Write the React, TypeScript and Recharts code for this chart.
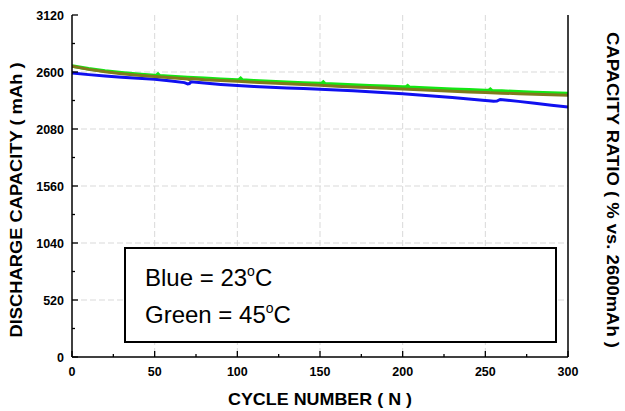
import { LineChart, Line, XAxis, YAxis, CartesianGrid, Label } from 'recharts';

// cycle counts and discharge capacity (mAh)
const blueCycles = [0, 10, 20, 30, 40, 50, 60, 68, 70, 71, 72, 80, 90, 100, 110, 120, 130, 140, 150, 160, 170, 180, 190, 200, 210, 220, 230, 240, 250, 252, 255, 257, 259, 262, 270, 280, 290, 300];
const blueCap = [2592, 2576, 2563, 2552, 2542, 2533, 2518, 2503, 2492, 2495, 2510, 2500, 2487, 2476, 2468, 2461, 2455, 2449, 2443, 2436, 2428, 2420, 2411, 2402, 2391, 2379, 2367, 2354, 2341, 2338, 2333, 2335, 2349, 2345, 2332, 2314, 2297, 2280];

const greenCycles = [0, 10, 20, 30, 40, 50, 51, 52, 53, 60, 70, 80, 90, 100, 101, 102, 103, 110, 120, 130, 140, 150, 151, 152, 153, 160, 170, 180, 190, 200, 202, 203, 204, 210, 220, 230, 240, 250, 252, 253, 254, 260, 270, 280, 290, 300];
const greenCap = [2655, 2630, 2610, 2594, 2580, 2567, 2567, 2580, 2566, 2558, 2549, 2542, 2535, 2528, 2528, 2541, 2527, 2521, 2514, 2507, 2500, 2494, 2494, 2507, 2493, 2488, 2481, 2475, 2469, 2463, 2463, 2475, 2461, 2457, 2450, 2443, 2437, 2431, 2431, 2443, 2429, 2426, 2419, 2413, 2408, 2404];

const oliveCycles = [0, 10, 20, 30, 40, 50, 60, 70, 71, 72, 80, 90, 100, 110, 120, 130, 140, 150, 160, 170, 180, 190, 200, 210, 220, 230, 240, 250, 260, 270, 280, 290, 300];
const oliveCap = [2652, 2624, 2602, 2585, 2570, 2558, 2547, 2536, 2530, 2540, 2530, 2522, 2515, 2507, 2500, 2492, 2485, 2478, 2471, 2464, 2458, 2451, 2445, 2438, 2432, 2425, 2418, 2412, 2407, 2402, 2397, 2392, 2388];

const xTicks = [0, 25, 50, 75, 100, 125, 150, 175, 200, 225, 250, 275, 300];
const xGrid = [50, 100, 150, 200, 250];
const capTicks = [0, 260, 520, 780, 1040, 1300, 1560, 1820, 2080, 2340, 2600, 2860, 3120];
const capGrid = [520, 1040, 1560, 2080, 2600];
const ratioTicks = [0, 10, 20, 30, 40, 50, 60, 70, 80, 90, 100, 110, 120];

const toRows = (xs: number[], ys: number[]) => xs.map((c, i) => ({ cycle: c, cap: ys[i] }));

const FONT = 'Arial, "Liberation Sans", sans-serif';
const tickText = { fontFamily: FONT, fontSize: 12.5, fontWeight: 700, fill: '#000' };

function BottomTick(props: any) {
  const { x, y, payload } = props;
  const major = payload.value % 50 === 0;
  return (
    <g>
      <line x1={x} y1={y} x2={x} y2={y - (major ? 6 : 3)} stroke="#000" strokeWidth={1.3} />
      {major && (
        <text x={x} y={y + 19} textAnchor="middle" {...tickText}>
          {payload.value}
        </text>
      )}
    </g>
  );
}

function TopTick(props: any) {
  const { x, y, payload } = props;
  const major = payload.value % 50 === 0;
  return <line x1={x} y1={y} x2={x} y2={y + (major ? 6 : 3)} stroke="#000" strokeWidth={1.3} />;
}

function LeftTick(props: any) {
  const { x, y, payload } = props;
  const major = payload.value % 520 === 0;
  return (
    <g>
      <line x1={x} y1={y} x2={x + (major ? 6 : 3)} y2={y} stroke="#000" strokeWidth={1.3} />
      {major && (
        <text x={x - 8} y={y + 4.5} textAnchor="end" {...tickText}>
          {payload.value}
        </text>
      )}
    </g>
  );
}

function RightTick(props: any) {
  const { x, y, payload } = props;
  const major = payload.value % 20 === 0;
  return (
    <g>
      <line x1={x} y1={y} x2={x - (major ? 6 : 3)} y2={y} stroke="#000" strokeWidth={1.3} />
      {major && (
        <text x={x + 8} y={y + 4.5} textAnchor="start" {...tickText}>
          {payload.value}
        </text>
      )}
    </g>
  );
}

const titleStyle = { fontFamily: FONT, fontSize: 17, fontWeight: 700, fill: '#000', whiteSpace: 'pre' as const };

export default function App() {
  return (
    <div style={{ position: 'relative', width: 625, height: 411, background: '#fff' }}>
      <style>{'body{margin:0}'}</style>
      <LineChart width={625} height={411} margin={{ top: 15, right: 0, bottom: 0, left: 0 }}>
        <CartesianGrid
          xAxisId="bottom"
          yAxisId="left"
          stroke="#d9d9d9"
          strokeDasharray="6 3"
          verticalValues={xGrid}
          horizontalValues={capGrid}
        />
        <XAxis
          xAxisId="bottom"
          type="number"
          dataKey="cycle"
          domain={[0, 300]}
          ticks={xTicks}
          interval={0}
          height={54}
          tickSize={0}
          tickMargin={0}
          tickLine={false}
          tick={<BottomTick />}
          axisLine={{ stroke: '#000', strokeWidth: 1.5 }}
          allowDataOverflow
        >
          <Label
            content={(p: any) => {
              const vb = p.viewBox;
              return (
                <text x={vb.x + vb.width / 2} y={vb.y + 48} textAnchor="middle" textLength={184} lengthAdjust="spacingAndGlyphs" {...titleStyle}>
                  {'CYCLE NUMBER  ( N )'}
                </text>
              );
            }}
          />
        </XAxis>
        <XAxis
          xAxisId="top"
          orientation="top"
          type="number"
          dataKey="cycle"
          domain={[0, 300]}
          ticks={xTicks}
          interval={0}
          height={0}
          tickSize={0}
          tickMargin={0}
          tickLine={false}
          tick={<TopTick />}
          axisLine={{ stroke: '#000', strokeWidth: 1.5 }}
        />
        <YAxis
          yAxisId="left"
          type="number"
          domain={[0, 3120]}
          ticks={capTicks}
          interval={0}
          width={72}
          tickSize={0}
          tickMargin={0}
          tickLine={false}
          tick={<LeftTick />}
          axisLine={{ stroke: '#000', strokeWidth: 1.5 }}
        >
          <Label
            content={(p: any) => {
              const vb = p.viewBox;
              const cx = vb.x + 16;
              const cy = vb.y + vb.height / 2 + 14;
              return (
                <text x={cx} y={cy} transform={`rotate(-90 ${cx} ${cy})`} textAnchor="middle" dominantBaseline="central" textLength={275} lengthAdjust="spacingAndGlyphs" {...titleStyle}>
                  {'DISCHARGE CAPACITY  ( mAh )'}
                </text>
              );
            }}
          />
        </YAxis>
        <YAxis
          yAxisId="right"
          orientation="right"
          type="number"
          domain={[0, 120]}
          ticks={ratioTicks}
          interval={0}
          width={57}
          tickSize={0}
          tickMargin={0}
          tickLine={false}
          tick={<RightTick />}
          axisLine={{ stroke: '#000', strokeWidth: 1.5 }}
        >
          <Label
            content={(p: any) => {
              const vb = p.viewBox;
              const cx = vb.x + 44;
              const cy = vb.y + vb.height / 2 + 4;
              return (
                <text x={cx} y={cy} transform={`rotate(90 ${cx} ${cy})`} textAnchor="middle" dominantBaseline="central" textLength={316} lengthAdjust="spacingAndGlyphs" {...titleStyle}>
                  {'CAPACITY RATIO ( % vs. 2600mAh )'}
                </text>
              );
            }}
          />
        </YAxis>
        <Line
          xAxisId="bottom"
          yAxisId="left"
          data={toRows(blueCycles, blueCap)}
          dataKey="cap"
          stroke="#1010f0"
          strokeWidth={3}
          dot={false}
          type="linear"
          isAnimationActive={false}
        />
        <Line
          xAxisId="bottom"
          yAxisId="left"
          data={toRows(greenCycles, greenCap)}
          dataKey="cap"
          stroke="#14e614"
          strokeWidth={3.5}
          dot={false}
          type="linear"
          isAnimationActive={false}
        />
        <Line
          xAxisId="bottom"
          yAxisId="left"
          data={toRows(oliveCycles, oliveCap)}
          dataKey="cap"
          stroke="#807a1c"
          strokeWidth={3}
          dot={false}
          type="linear"
          isAnimationActive={false}
        />
      </LineChart>
      <div
        style={{
          position: 'absolute',
          left: 124,
          top: 247,
          width: 433,
          height: 96,
          border: '2.5px solid #000',
          background: '#fff',
          fontFamily: FONT,
          fontSize: 24,
          lineHeight: '31px',
          color: '#000',
          paddingLeft: 19,
          paddingTop: 7,
          boxSizing: 'border-box',
        }}
      >
        <div>
          Blue = 23<sup style={{ fontSize: 14, verticalAlign: 10 }}>o</sup>C
        </div>
        <div>
          Green = 45<sup style={{ fontSize: 14, verticalAlign: 10 }}>o</sup>C
        </div>
      </div>
    </div>
  );
}
